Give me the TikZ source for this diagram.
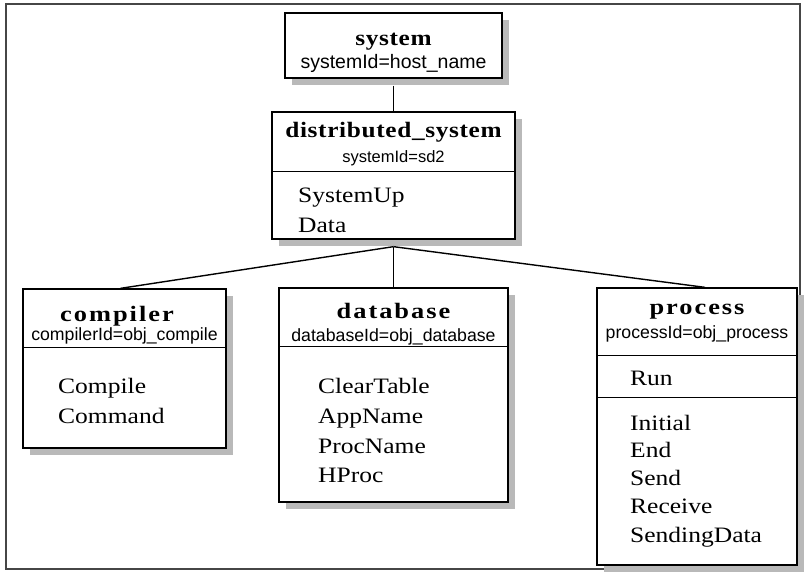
\documentclass[tikz,border=0pt]{standalone}
\usepackage{fontspec}
\setmainfont{Liberation Serif}
\newfontfamily\titlefont{Liberation Serif}[FakeStretch=1.15,LetterSpace=3]
\newfontfamily\widetitlefont{Liberation Serif}[FakeStretch=1.2,LetterSpace=9]
\newfontfamily\attrfont{Liberation Sans}
\newfontfamily\methfont{Liberation Serif}[FakeStretch=1.16]
\usetikzlibrary{shadows}

\tikzset{
  classbox/.style={draw=black, line width=1.3pt, fill=white, rectangle, inner sep=0pt,
    drop shadow={shadow xshift=7pt, shadow yshift=-7pt, opacity=1, fill=gray!55}},
  ctitle/.style={font=\titlefont\bfseries\fontsize{22}{26}\selectfont, anchor=base, inner sep=0pt},
  wtitle/.style={ctitle, font=\widetitlefont\bfseries\fontsize{22}{26}\selectfont},
  cattr/.style={font=\attrfont\fontsize{17.7}{20}\selectfont, anchor=base, inner sep=0pt},
  cmeth/.style={font=\methfont\fontsize{22}{26}\selectfont, anchor=base west, inner sep=0pt},
  link/.style={line width=1.4pt},
  divider/.style={line width=1.6pt},
  frame/.style={draw=gray!55!black, line width=2.5pt}
}

\begin{document}
\begin{tikzpicture}[x=1pt, y=-1pt]
  \fill[white] (0,0) rectangle (804,581);
  \useasboundingbox (0,0) rectangle (804,581);
  \draw[frame] (6,4) rectangle (800,569);

  % class boxes
  \node[classbox, minimum width=217pt, minimum height=65pt]  (sys)  at (393.5,45.5) {};
  \node[classbox, minimum width=243pt, minimum height=127pt] (dist) at (393.5,175.5) {};
  \node[classbox, minimum width=203pt, minimum height=159pt] (comp) at (124.5,368.5) {};
  \node[classbox, minimum width=229pt, minimum height=214pt] (db)   at (393.5,395) {};
  \node[classbox, minimum width=200pt, minimum height=277pt] (proc) at (697,426.5) {};

  % compartment lines
  \draw[divider] ([yshift=-60pt]dist.north west) -- ([yshift=-60pt]dist.north east);
  \draw[divider] ([yshift=-59pt]comp.north west) -- ([yshift=-59pt]comp.north east);
  \draw[divider] ([yshift=-59pt]db.north west)   -- ([yshift=-59pt]db.north east);
  \draw[divider] ([yshift=-68pt]proc.north west) -- ([yshift=-68pt]proc.north east);
  \draw[divider] ([yshift=-110pt]proc.north west) -- ([yshift=-110pt]proc.north east);

  % connectors
  \draw[link] ([yshift=-7pt]sys.south) -- (dist.north);
  \draw[link] ([yshift=-7pt]dist.south) -- ([xshift=-4pt]comp.north);
  \draw[link] ([yshift=-7pt]dist.south) -- (db.north);
  \draw[link] ([yshift=-7pt]dist.south) -- ([xshift=8pt]proc.north);

  % system
  \node[ctitle] (sysT) at (393.5,45) {system};
  \node[cattr, font=\attrfont\fontsize{19.5}{22}\selectfont] (sysA) at (393.5,68) {systemId=host\_name};

  % distributed_system
  \node[ctitle] (distT) at (393.5,137) {distributed\_system};
  \node[cattr, font=\attrfont\fontsize{16.5}{19}\selectfont] (distA) at (393.5,162) {systemId=sd2};
  \node[cmeth] (distM1) at (298,202) {SystemUp};
  \node[cmeth] (distM2) at (298,232) {Data};

  % compiler
  \node[wtitle] (compT) at (117,321) {compiler};
  \node[cattr] (compA) at (124.5,340) {compilerId=obj\_compile};
  \node[cmeth] (compM1) at (58,393) {Compile};
  \node[cmeth] (compM2) at (58,423) {Command};

  % database
  \node[wtitle] (dbT) at (393.5,318) {database};
  \node[cattr] (dbA) at (393.5,341) {databaseId=obj\_database};
  \node[cmeth] (dbM1) at (318,393) {ClearTable};
  \node[cmeth] (dbM2) at (318,423) {AppName};
  \node[cmeth] (dbM3) at (318,453) {ProcName};
  \node[cmeth] (dbM4) at (318,482) {HProc};

  % process
  \node[wtitle] (procT) at (697,314) {process};
  \node[cattr] (procA) at (697,338) {processId=obj\_process};
  \node[cmeth] (procR) at (630,385) {Run};
  \node[cmeth] (procM1) at (630,430) {Initial};
  \node[cmeth] (procM2) at (630,457) {End};
  \node[cmeth] (procM3) at (630,485) {Send};
  \node[cmeth] (procM4) at (630,513) {Receive};
  \node[cmeth] (procM5) at (630,542) {SendingData};
\end{tikzpicture}
\end{document}
